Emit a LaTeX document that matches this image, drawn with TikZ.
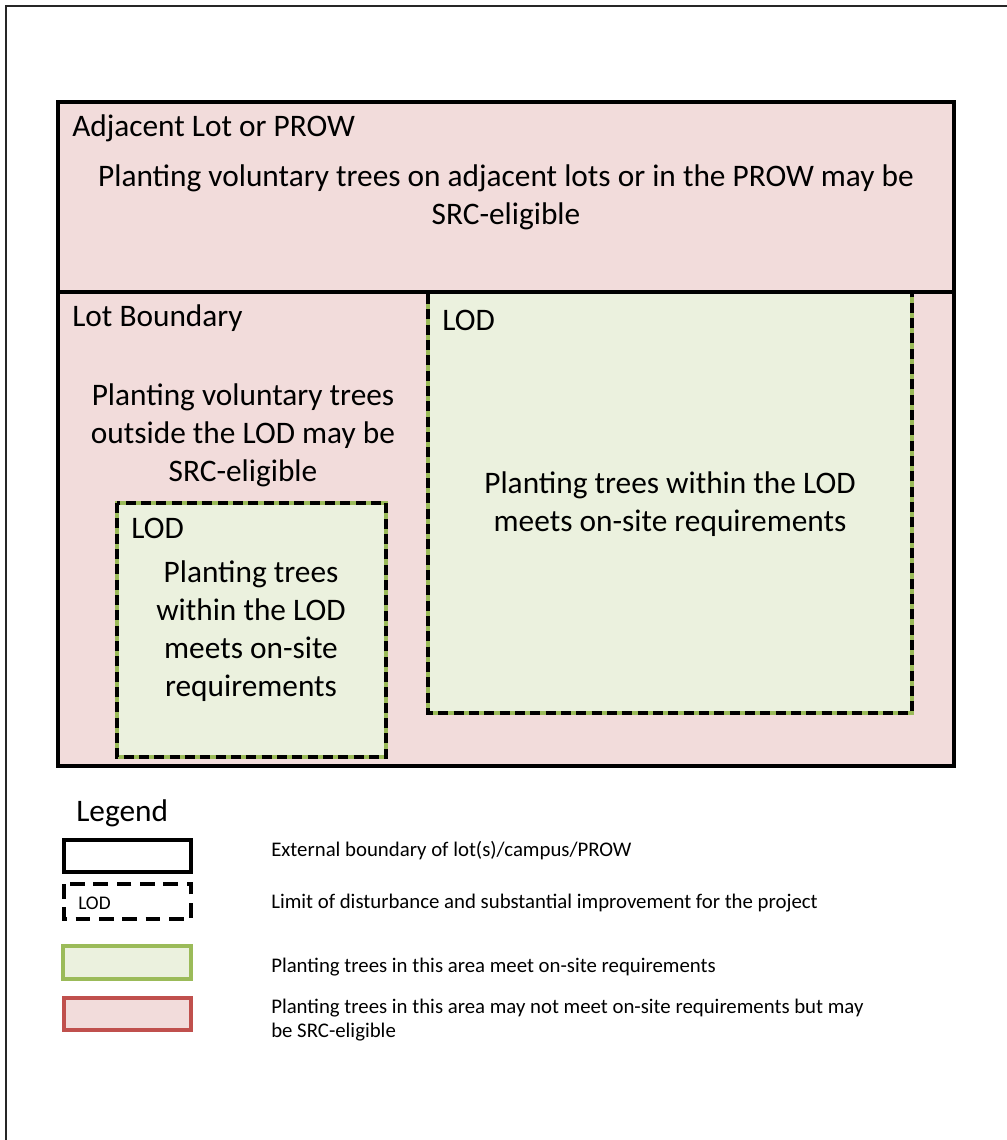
\documentclass[tikz,border=0pt]{standalone}
\usepackage{fontspec}
\setmainfont{Carlito}
\usepackage{xcolor}
\definecolor{lotpink}{HTML}{F2DCDB}
\definecolor{lodfill}{HTML}{EBF1DE}
\definecolor{lineg}{HTML}{9BBB59}
\definecolor{liner}{HTML}{C0504D}
\usetikzlibrary{positioning}

\begin{document}
\begin{tikzpicture}[x=0.75pt, y=-0.75pt,
    bigtxt/.style={font=\fontsize{23.5}{28.5}\selectfont, align=center, inner sep=0pt},
    tagtxt/.style={font=\fontsize{23.5}{28}\selectfont, anchor=west, inner sep=0pt},
    legtxt/.style={font=\fontsize{15.6}{18}\selectfont, anchor=west, align=left, inner sep=0pt},
    lotline/.style={draw=black, line width=3pt},
    lodedge/.style={draw=lineg, line width=2.8pt},
    loddash/.style={draw=black, line width=2.8pt, dash pattern=on 7.5pt off 4pt}]
  \useasboundingbox (0,0) rectangle (1007,1140);
  %% page frame (left and top only)
  \draw[line width=1.2pt, black!85] (1007,6) -- (6,6) -- (6,1140);

  %% adjacent lot / PROW
  \path[fill=lotpink, lotline] (58,102) rectangle (954,292);
  \node[tagtxt] (adjtag) at (72,128) {Adjacent Lot or PROW};
  \node[bigtxt] (adjtxt) at (506,197)
    {Planting voluntary trees on adjacent lots or in the PROW may be\\SRC-eligible};

  %% lot boundary
  \path[fill=lotpink, lotline] (58,292) rectangle (954,766);
  \node[tagtxt] (lottag) at (72,318) {Lot Boundary};
  \node[bigtxt] (lottxt) at (243,435)
    {Planting voluntary trees\\outside the LOD may be\\SRC-eligible};

  %% large LOD
  \fill[lodfill] (428,294) rectangle (912,713);
  \draw[lodedge] (428,294) -- (428,713) -- (912,713) -- (912,294);
  \draw[loddash] (428,294) -- (428,713) -- (912,713) -- (912,294);
  \node[tagtxt] (bigtag) at (442,320) {LOD};
  \node[bigtxt] (bigtxt) at (670,504)
    {Planting trees within the LOD\\meets on-site requirements};

  %% small LOD
  \fill[lodfill] (117,503) rectangle (386,757);
  \draw[lodedge] (117,503) rectangle (386,757);
  \draw[loddash] (117,503) rectangle (386,757);
  \node[tagtxt] (smalltag) at (131,528) {LOD};
  \node[bigtxt] (smalltxt) at (251,631)
    {Planting trees\\within the LOD\\meets on-site\\requirements};

  %% legend
  \node[tagtxt] (legtitle) at (76,813) {Legend};
  \draw[line width=2.8pt] (64,840) rectangle (191,872);
  \draw[line width=2.8pt, dash pattern=on 11pt off 6.5pt] (64,884) rectangle (191,919);
  \node[legtxt, font=\fontsize{14.5}{16}\selectfont] (legtag) at (78,903) {LOD};
  \draw[lodedge, fill=lodfill] (63,946) rectangle (191,979);
  \draw[draw=liner, line width=2.8pt, fill=lotpink] (64,998) rectangle (191,1030);
  \node[legtxt] (leg1) at (271,851) {External boundary of lot(s)/campus/PROW};
  \node[legtxt] (leg2) at (271,903) {Limit of disturbance and substantial improvement for the project};
  \node[legtxt] (leg3) at (271,967) {Planting trees in this area meet on-site requirements};
  \node[legtxt] (leg4) at (271,1020)
    {Planting trees in this area may not meet on-site requirements but may\\be SRC-eligible};
\end{tikzpicture}
\end{document}
